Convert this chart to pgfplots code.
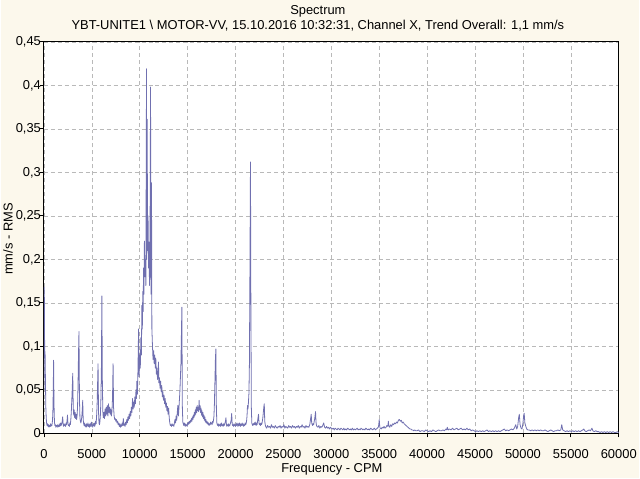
\documentclass[border=0pt]{standalone}
\usepackage{fontspec}
\setmainfont{Liberation Sans}
\usepackage{pgfplots}
\usepackage{pgfplotstable}
\pgfplotsset{compat=1.18}
\definecolor{bg}{RGB}{252,248,236}
\definecolor{trace}{RGB}{112,112,176}
\definecolor{gridc}{RGB}{185,185,185}

% spectrum: CPM  mm/s RMS
\pgfplotstableread{
x y
0 0.050
40 0.168
80 0.092
120 0.094
160 0.060
200 0.030
240 0.018
280 0.012
330 0.009
380 0.011
430 0.008
480 0.010
530 0.007
580 0.009
630 0.008
680 0.011
730 0.008
780 0.010
830 0.009
880 0.013
930 0.022
970 0.045
1010 0.084
1050 0.035
1100 0.013
1150 0.009
1200 0.010
1250 0.007
1300 0.009
1350 0.008
1400 0.010
1450 0.007
1500 0.009
1550 0.008
1600 0.011
1650 0.008
1700 0.009
1750 0.012
1800 0.009
1850 0.011
1900 0.013
1960 0.019
2010 0.010
2060 0.008
2110 0.011
2160 0.009
2210 0.010
2260 0.008
2310 0.012
2360 0.010
2410 0.014
2460 0.021
2510 0.011
2560 0.009
2610 0.010
2660 0.008
2710 0.012
2760 0.010
2810 0.016
2860 0.025
2910 0.038
2960 0.052
3010 0.069
3060 0.030
3110 0.021
3160 0.027
3210 0.018
3260 0.024
3310 0.017
3360 0.022
3410 0.016
3460 0.020
3510 0.030
3560 0.055
3610 0.090
3660 0.117
3710 0.040
3760 0.018
3810 0.014
3860 0.012
3910 0.015
3960 0.020
4010 0.028
4050 0.038
4100 0.016
4150 0.011
4200 0.009
4250 0.012
4300 0.008
4350 0.010
4400 0.007
4450 0.011
4500 0.008
4550 0.009
4600 0.012
4650 0.008
4700 0.010
4750 0.007
4800 0.011
4850 0.008
4900 0.010
4950 0.013
5000 0.008
5050 0.010
5100 0.007
5150 0.011
5200 0.009
5250 0.012
5300 0.008
5350 0.010
5400 0.014
5450 0.011
5500 0.020
5550 0.032
5600 0.055
5650 0.080
5700 0.025
5750 0.012
5800 0.010
5850 0.014
5900 0.022
5950 0.040
6000 0.075
6050 0.158
6100 0.060
6150 0.025
6200 0.018
6260 0.024
6320 0.017
6380 0.028
6440 0.020
6500 0.030
6560 0.022
6620 0.032
6680 0.020
6740 0.034
6800 0.024
6860 0.030
6920 0.022
6980 0.028
7040 0.020
7100 0.025
7160 0.040
7220 0.080
7270 0.030
7330 0.020
7390 0.016
7450 0.017
7510 0.014
7570 0.016
7630 0.012
7690 0.014
7750 0.010
7810 0.012
7870 0.008
7930 0.011
7990 0.007
8050 0.010
8110 0.008
8170 0.012
8230 0.009
8290 0.017
8350 0.009
8410 0.011
8470 0.008
8530 0.013
8590 0.010
8650 0.016
8710 0.012
8770 0.019
8830 0.015
8890 0.022
8950 0.017
9010 0.025
9070 0.020
9130 0.030
9190 0.024
9250 0.040
9310 0.028
9370 0.036
9430 0.030
9490 0.042
9550 0.034
9610 0.050
9660 0.040
9700 0.060
9760 0.045
9820 0.075
9880 0.120
9940 0.065
10000 0.090
10060 0.075
10120 0.110
10180 0.090
10220 0.147
10270 0.120
10320 0.163
10360 0.140
10400 0.190
10440 0.160
10490 0.221
10540 0.180
10590 0.200
10640 0.170
10710 0.419
10740 0.200
10780 0.361
10820 0.210
10870 0.250
10920 0.190
10970 0.220
11020 0.170
11070 0.200
11130 0.398
11170 0.160
11230 0.288
11270 0.120
11330 0.101
11390 0.085
11450 0.095
11510 0.080
11570 0.090
11630 0.075
11680 0.086
11740 0.068
11800 0.075
11860 0.062
11920 0.070
11960 0.082
12000 0.058
12060 0.064
12120 0.052
12180 0.060
12240 0.048
12300 0.055
12360 0.042
12420 0.048
12480 0.038
12540 0.044
12600 0.034
12660 0.040
12720 0.030
12780 0.035
12840 0.026
12900 0.031
12960 0.022
13020 0.029
13080 0.018
13140 0.012
13200 0.009
13260 0.010
13320 0.008
13380 0.011
13440 0.009
13500 0.010
13560 0.008
13620 0.012
13680 0.016
13740 0.012
13800 0.020
13860 0.015
13920 0.024
13980 0.032
14040 0.020
14100 0.030
14200 0.050
14300 0.080
14400 0.145
14450 0.030
14500 0.013
14550 0.011
14600 0.009
14650 0.012
14700 0.010
14750 0.008
14800 0.011
14850 0.009
14900 0.010
14950 0.008
15000 0.012
15050 0.010
15100 0.013
15150 0.011
15200 0.014
15250 0.012
15300 0.015
15350 0.013
15400 0.017
15450 0.014
15500 0.019
15550 0.016
15600 0.021
15650 0.018
15700 0.024
15750 0.020
15800 0.027
15850 0.022
15900 0.030
15950 0.024
16000 0.032
16050 0.026
16100 0.030
16150 0.025
16200 0.038
16250 0.027
16300 0.032
16350 0.024
16400 0.029
16450 0.021
16500 0.026
16550 0.019
16600 0.024
16650 0.017
16700 0.021
16750 0.015
16800 0.019
16850 0.013
16900 0.016
16950 0.012
17000 0.014
17050 0.011
17100 0.013
17150 0.010
17200 0.012
17250 0.009
17300 0.011
17350 0.010
17400 0.013
17450 0.011
17500 0.012
17550 0.010
17600 0.014
17650 0.012
17700 0.015
17750 0.020
17800 0.035
17850 0.060
17900 0.085
17950 0.097
18000 0.030
18050 0.012
18100 0.010
18150 0.009
18200 0.011
18250 0.008
18300 0.010
18350 0.009
18400 0.011
18450 0.008
18500 0.010
18550 0.012
18600 0.009
18650 0.010
18700 0.008
18750 0.011
18800 0.009
18850 0.010
18900 0.012
18950 0.014
19000 0.018
19050 0.010
19100 0.008
19150 0.010
19200 0.009
19250 0.011
19300 0.008
19350 0.010
19400 0.009
19450 0.011
19500 0.013
19550 0.016
19600 0.023
19650 0.011
19700 0.009
19750 0.010
19800 0.008
19850 0.011
19900 0.009
19950 0.010
20000 0.008
20050 0.011
20100 0.009
20150 0.012
20200 0.010
20250 0.008
20300 0.011
20350 0.009
20400 0.012
20450 0.010
20500 0.008
20550 0.011
20600 0.009
20650 0.010
20700 0.012
20750 0.009
20800 0.011
20850 0.008
20900 0.010
20950 0.009
21000 0.012
21050 0.010
21100 0.011
21150 0.014
21200 0.020
21250 0.032
21300 0.028
21350 0.036
21400 0.046
21450 0.080
21500 0.180
21560 0.312
21600 0.159
21650 0.030
21700 0.012
21750 0.010
21800 0.009
21850 0.011
21900 0.010
21950 0.012
22000 0.010
22050 0.013
22100 0.011
22150 0.009
22200 0.012
22250 0.010
22300 0.014
22350 0.018
22400 0.022
22450 0.012
22500 0.010
22550 0.011
22600 0.009
22650 0.012
22700 0.010
22750 0.011
22800 0.014
22850 0.018
22900 0.024
22950 0.030
23000 0.034
23050 0.014
23100 0.010
23150 0.008
23250 0.006
23350 0.009
23450 0.007
23550 0.008
23650 0.006
23750 0.010
23850 0.007
23950 0.008
24050 0.006
24150 0.009
24250 0.007
24350 0.006
24450 0.008
24550 0.007
24650 0.009
24750 0.006
24850 0.008
24950 0.007
25050 0.010
25150 0.006
25250 0.008
25350 0.007
25450 0.006
25550 0.009
25650 0.007
25750 0.008
25850 0.006
25950 0.009
26050 0.007
26150 0.008
26250 0.006
26350 0.008
26450 0.007
26550 0.009
26650 0.006
26750 0.008
26850 0.007
26950 0.010
27050 0.007
27150 0.008
27250 0.006
27350 0.009
27450 0.007
27550 0.008
27650 0.007
27750 0.010
27800 0.014
27850 0.018
27900 0.022
27950 0.012
28000 0.010
28050 0.009
28100 0.011
28150 0.010
28200 0.013
28250 0.016
28300 0.020
28350 0.025
28400 0.013
28450 0.009
28500 0.008
28600 0.007
28700 0.009
28800 0.006
28900 0.008
29000 0.007
29100 0.009
29200 0.012
29300 0.007
29400 0.006
29500 0.008
29600 0.006
29700 0.007
29800 0.005
29900 0.007
30000 0.006
30100 0.005
30200 0.006
30300 0.004
30400 0.006
30500 0.005
30600 0.004
30700 0.006
30800 0.005
30900 0.004
31000 0.006
31100 0.005
31200 0.004
31300 0.006
31400 0.004
31500 0.005
31600 0.004
31700 0.006
31800 0.005
31900 0.004
32000 0.005
32100 0.004
32200 0.006
32300 0.004
32400 0.005
32500 0.004
32600 0.005
32700 0.006
32800 0.004
32900 0.005
33000 0.004
33100 0.006
33200 0.005
33300 0.004
33400 0.005
33500 0.004
33600 0.006
33700 0.005
33800 0.004
33900 0.005
34000 0.004
34100 0.006
34200 0.005
34300 0.004
34400 0.005
34500 0.006
34600 0.004
34700 0.005
34800 0.006
34900 0.007
34950 0.010
35000 0.016
35050 0.008
35100 0.006
35200 0.005
35300 0.007
35400 0.006
35500 0.008
35600 0.006
35700 0.007
35800 0.009
35900 0.008
35950 0.014
36000 0.009
36100 0.007
36200 0.010
36300 0.008
36400 0.011
36500 0.010
36600 0.012
36700 0.011
36800 0.013
36900 0.012
37000 0.015
37100 0.016
37200 0.014
37300 0.015
37400 0.012
37500 0.013
37600 0.011
37700 0.010
37800 0.009
37900 0.008
38000 0.007
38100 0.006
38200 0.005
38300 0.005
38400 0.004
38500 0.004
38600 0.003
38700 0.004
38800 0.003
38950 0.003
39100 0.004
39250 0.002
39400 0.003
39550 0.003
39700 0.002
39850 0.004
40000 0.003
40150 0.002
40300 0.003
40450 0.002
40600 0.004
40750 0.003
40900 0.002
41050 0.003
41200 0.004
41350 0.003
41500 0.003
41650 0.004
41800 0.003
41950 0.005
42050 0.004
42100 0.007
42200 0.004
42350 0.005
42500 0.004
42650 0.006
42800 0.004
42950 0.005
43100 0.006
43250 0.004
43400 0.005
43550 0.006
43700 0.004
43850 0.005
44000 0.004
44150 0.006
44300 0.004
44450 0.005
44600 0.003
44750 0.004
44900 0.003
45050 0.002
45200 0.003
45350 0.002
45500 0.003
45650 0.002
45800 0.003
45950 0.002
46100 0.003
46250 0.004
46400 0.002
46550 0.003
46700 0.002
46850 0.003
47000 0.002
47150 0.003
47300 0.002
47450 0.003
47600 0.002
47750 0.003
47900 0.004
48050 0.005
48200 0.003
48350 0.004
48500 0.003
48650 0.004
48800 0.005
48950 0.004
49100 0.006
49250 0.010
49350 0.005
49450 0.008
49550 0.018
49620 0.022
49700 0.010
49800 0.006
49900 0.005
50000 0.012
50080 0.021
50130 0.023
50200 0.012
50300 0.008
50400 0.005
50500 0.004
50650 0.004
50800 0.003
50950 0.004
51100 0.003
51250 0.004
51400 0.003
51550 0.004
51700 0.003
51850 0.004
52000 0.003
52150 0.003
52300 0.004
52450 0.003
52600 0.002
52750 0.003
52900 0.004
53050 0.003
53200 0.002
53350 0.003
53500 0.003
53650 0.004
53800 0.003
53950 0.004
54050 0.010
54150 0.004
54300 0.003
54450 0.002
54600 0.003
54750 0.002
54900 0.003
55050 0.002
55200 0.003
55350 0.002
55500 0.003
55650 0.002
55800 0.003
55950 0.002
56100 0.003
56250 0.004
56350 0.005
56450 0.003
56600 0.002
56750 0.003
56900 0.004
57050 0.003
57200 0.006
57300 0.003
57450 0.002
57600 0.003
57750 0.002
57900 0.002
58050 0.001
58200 0.002
58350 0.001
58500 0.002
58650 0.001
58800 0.002
58950 0.001
59100 0.002
59250 0.001
59400 0.002
59550 0.001
59700 0.001
59850 0.002
60000 0.001
}\spectrum

\begin{document}
\begin{tikzpicture}[font=\fontsize{13}{15}\selectfont]
  % page = 640 x 480 bp, one bp per pixel of the reference
  \fill[bg] (0,0) rectangle (640bp,480bp);
  \node at (318bp,469bp) {Spectrum};
  \node at (318bp,454bp) {YBT-UNITE1 \textbackslash{} MOTOR-VV, 15.10.2016 10:32:31, Channel X, Trend Overall: 1,1 mm/s};
  \node at (332bp,9bp) {Frequency - CPM};
  \node[rotate=90] at (7bp,240bp) {mm/s - RMS};
  \begin{axis}[
      at={(43bp,45bp)}, anchor=south west,
      scale only axis,
      width=577bp, height=393bp,
      xmin=0, xmax=60000,
      ymin=0, ymax=0.45,
      xtick={0,5000,...,60000},
      ytick={0,0.05,0.1,0.15,0.2,0.25,0.3,0.35,0.4,0.45},
      scaled x ticks=false, scaled y ticks=false,
      /pgf/number format/assume math mode=true,
      xticklabel style={yshift=-9bp, /pgf/number format/.cd, fixed, 1000 sep={}},
      yticklabel style={xshift=4.5bp, /pgf/number format/.cd, fixed, use comma, precision=2},
      tick align=outside,
      major tick length=4bp,
      xtick pos=bottom, ytick pos=left,
      tick style={black, line width=0.8bp},
      axis line style={black, line width=1bp},
      grid=major,
      major grid style={gridc, line width=0.6bp, dash pattern=on 4bp off 3bp},
      axis background/.style={fill=white},
    ]
    \addplot[trace, line width=0.8bp, line join=round] table[x=x, y=y] {\spectrum};
  \end{axis}
\end{tikzpicture}
\end{document}
